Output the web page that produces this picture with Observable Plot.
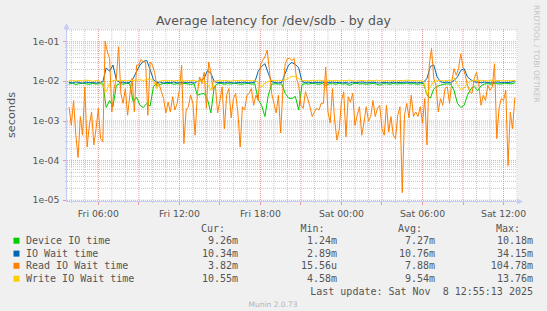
<!DOCTYPE html>
<html><head><meta charset="utf-8">
<script src="https://cdn.jsdelivr.net/npm/d3@7"></script>
<script src="https://cdn.jsdelivr.net/npm/@observablehq/plot@0.6"></script>
<style>
html,body{margin:0;padding:0;background:#f0f0f0;}
#chart{width:547px;height:311px;overflow:hidden;}
</style></head><body><div id="chart"></div>
<script>
// ---------- data ----------
const seriesNames = ["Device IO time", "IO Wait time", "Read IO Wait time", "Write IO Wait time"];
const seriesColors = ["#00CC00", "#0066B3", "#FF8000", "#FFCC00"];
const legendCur = ["9.26m", "10.34m", "3.82m", "10.55m"];
const legendMin = ["1.24m", "2.89m", "15.56u", "4.58m"];
const legendAvg = ["7.27m", "10.76m", "7.88m", "9.54m"];
const legendMax = ["10.18m", "34.15m", "104.78m", "13.76m"];
const lastUpdate = "Last update: Sat Nov  8 12:55:13 2025";
const titleText = "Average latency for /dev/sdb - by day";
const yLabel = "seconds";
const watermark = "RRDTOOL / TOBI OETIKER";
const versionText = "Munin 2.0.73";

const yTickValues = [1e-5, 1e-4, 1e-3, 1e-2, 1e-1];
const yTickLabels = ["1e-05", "1e-04", "1e-03", "1e-02", "1e-01"];
const xTickTimes = [
  Date.UTC(2025, 10, 7, 6), Date.UTC(2025, 10, 7, 12), Date.UTC(2025, 10, 7, 18),
  Date.UTC(2025, 10, 8, 0), Date.UTC(2025, 10, 8, 6), Date.UTC(2025, 10, 8, 12)
];
const xTickLabels = ["Fri 06:00", "Fri 12:00", "Fri 18:00", "Sat 00:00", "Sat 06:00", "Sat 12:00"];

// series start Fri 03:50 (UTC), read series every 10 min, the others every 15 min
const seriesStart = Date.UTC(2025, 10, 7, 3, 50);
const readStepMin = 10;
const otherStepMin = 15;

const readWait = [
  0.0022, 0.00078, 0.0033, 0.00044, 0.00012, 0.0013, 0.00044, 0.0073, 0.00022, 0.00078,
  0.0017, 0.00025, 0.00064, 0.0021, 0.00036, 0.0003, 0.105, 0.056, 0.038, 0.0017,
  0.0066, 0.012, 0.075, 0.005, 0.0028, 0.0066, 0.0014, 0.0045, 0.012, 0.0017,
  0.026, 0.026, 0.036, 0.031, 0.031, 0.0014, 0.031, 0.026, 0.017, 0.0073,
  0.0088, 0.0055, 0.0037, 0.0016, 0.003, 0.0017, 0.0041, 0.0019, 0.0028, 0.006,
  0.026, 0.00027, 0.0019, 0.0023, 0.0045, 0.0028, 0.00044, 0.005, 0.013, 0.0088,
  0.017, 0.0021, 0.031, 0.017, 0.006, 0.008, 0.0016, 0.0033, 0.0073, 0.00064,
  0.0045, 0.0066, 0.0012, 0.0037, 0.005, 0.0016, 0.00022, 0.0023, 0.0019, 0.0045,
  0.005, 0.0066, 0.0025, 0.0045, 0.0033, 0.026, 0.034, 0.042, 0.062, 0.019,
  0.005, 0.0028, 0.0016, 0.0045, 0.0005, 0.0066, 0.028, 0.038, 0.038, 0.034,
  0.038, 0.012, 0.008, 0.0025, 0.0021, 0.0055, 0.0037, 0.0023, 0.0013, 0.0017,
  0.0021, 0.0019, 0.0028, 0.0028, 0.023, 0.0017, 0.0009, 0.0066, 0.001, 0.00033,
  0.0006, 0.0033, 0.0055, 0.0004, 0.0041, 0.003, 0.005, 0.00078, 0.0014, 0.0023,
  0.00044, 0.0009, 0.0023, 0.001, 0.0013, 0.0033, 0.0013, 0.0021, 0.0025, 0.00064,
  0.00044, 0.0025, 0.00053, 0.0013, 0.00044, 0.00036, 0.0014, 0.0023, 0.0000156, 0.0014,
  0.0028, 0.0012, 0.0045, 0.0013, 0.0017, 0.0013, 0.0023, 0.0009, 0.0037, 0.00025,
  0.026, 0.068, 0.012, 0.008, 0.0017, 0.0037, 0.0025, 0.0066, 0.0073, 0.0028,
  0.0098, 0.021, 0.0144, 0.021, 0.05, 0.023, 0.0144, 0.008, 0.0055, 0.005,
  0.012, 0.017, 0.0088, 0.0025, 0.0045, 0.0033, 0.008, 0.006, 0.0073, 0.028,
  0.00036, 0.0021, 0.0037, 0.0033, 0.006, 0.000075, 0.0017, 0.00064, 0.0038
];

const deviceIO = [
  0.0086, 0.0090, 0.0084, 0.0088, 0.0091, 0.0087, 0.0085, 0.0089, 0.0086, 0.0088,
  0.0087, 0.0022, 0.0033, 0.0023, 0.0080, 0.0088, 0.0085, 0.0089, 0.0087, 0.0030,
  0.0040, 0.0025, 0.0022, 0.0028, 0.0024, 0.0075, 0.0088, 0.0084, 0.0089, 0.0087,
  0.0090, 0.0085, 0.0088, 0.0086, 0.0089, 0.0087, 0.0084, 0.0088, 0.0045, 0.0048,
  0.0050, 0.0035, 0.0016, 0.0075, 0.0087, 0.0089, 0.0085, 0.0088, 0.0086, 0.0090,
  0.0087, 0.0085, 0.0088, 0.0089, 0.0086, 0.0087, 0.0035, 0.0025, 0.0013, 0.0045,
  0.0085, 0.0088, 0.0086, 0.0087, 0.0050, 0.0038, 0.0037, 0.0042, 0.0019, 0.0084,
  0.0088, 0.0086, 0.0090, 0.0087, 0.0085, 0.0089, 0.0078, 0.0087, 0.0088, 0.0085,
  0.0089, 0.0086, 0.0088, 0.0079, 0.0087, 0.0090, 0.0086, 0.0088, 0.0085, 0.0087,
  0.0089, 0.0086, 0.0080, 0.0088, 0.0087, 0.0085, 0.0089, 0.0086, 0.0088, 0.0087,
  0.0090, 0.0086, 0.0088, 0.0085, 0.0087, 0.0089, 0.0045, 0.0038, 0.0065, 0.0075,
  0.0080, 0.0085, 0.0087, 0.0086, 0.0060, 0.0028, 0.0022, 0.0025, 0.0045, 0.0066,
  0.0075, 0.0058, 0.0078, 0.0086, 0.0088, 0.0085, 0.0089, 0.0087, 0.0086, 0.0090,
  0.0088, 0.0087, 0.00926
];

const ioWait = [
  0.0095, 0.0092, 0.0097, 0.0094, 0.0090, 0.0096, 0.0093, 0.0095, 0.0091, 0.0094,
  0.0098, 0.022, 0.018, 0.026, 0.011, 0.0094, 0.0096, 0.0092, 0.0095, 0.012,
  0.018, 0.026, 0.032, 0.034, 0.020, 0.011, 0.0094, 0.0096, 0.0091, 0.0095,
  0.0093, 0.0097, 0.0092, 0.0094, 0.0096, 0.0093, 0.0095, 0.0091, 0.010, 0.0105,
  0.012, 0.019, 0.016, 0.010, 0.0093, 0.0095, 0.0092, 0.0096, 0.0094, 0.0091,
  0.0095, 0.0093, 0.0096, 0.0092, 0.0094, 0.0095, 0.018, 0.024, 0.028, 0.016,
  0.0098, 0.0094, 0.0092, 0.0095, 0.016, 0.026, 0.030, 0.027, 0.022, 0.0098,
  0.0094, 0.0096, 0.0092, 0.0095, 0.0093, 0.0097, 0.0091, 0.0094, 0.0096, 0.0093,
  0.0095, 0.0092, 0.0094, 0.0090, 0.0096, 0.0093, 0.0095, 0.0097, 0.0092, 0.0094,
  0.0096, 0.0093, 0.0091, 0.0095, 0.0094, 0.0092, 0.0096, 0.0093, 0.0095, 0.0094,
  0.0097, 0.0093, 0.0095, 0.0092, 0.0094, 0.0096, 0.012, 0.024, 0.026, 0.013,
  0.0098, 0.0094, 0.0096, 0.0093, 0.0105, 0.013, 0.019, 0.021, 0.013, 0.011,
  0.0098, 0.0095, 0.0093, 0.0096, 0.0094, 0.0092, 0.0095, 0.0097, 0.0093, 0.0095,
  0.0094, 0.0096, 0.01034
];

const writeWait = [
  0.0104, 0.0107, 0.0102, 0.0106, 0.0103, 0.0108, 0.0105, 0.0101, 0.0106, 0.0104,
  0.0078, 0.0055, 0.0090, 0.0105, 0.0108, 0.0103, 0.0106, 0.0104, 0.0107, 0.0105,
  0.0108, 0.0110, 0.0106, 0.0112, 0.0115, 0.0104, 0.0065, 0.0102, 0.0106, 0.0104,
  0.0107, 0.0103, 0.0105, 0.0108, 0.0102, 0.0106, 0.0104, 0.0107, 0.0100, 0.0104,
  0.0098, 0.0085, 0.0060, 0.0100, 0.0106, 0.0103, 0.0107, 0.0104, 0.0102, 0.0106,
  0.0105, 0.0108, 0.0103, 0.0106, 0.0104, 0.0107, 0.0095, 0.0072, 0.0090, 0.0100,
  0.0106, 0.0104, 0.0107, 0.0105, 0.0110, 0.0120, 0.0135, 0.0130, 0.0118, 0.0105,
  0.0106, 0.0103, 0.0107, 0.0104, 0.0108, 0.0105, 0.0102, 0.0106, 0.0104, 0.0107,
  0.0103, 0.0106, 0.0105, 0.0108, 0.0104, 0.0102, 0.0107, 0.0105, 0.0103, 0.0106,
  0.0104, 0.0108, 0.0105, 0.0102, 0.0106, 0.0104, 0.0107, 0.0103, 0.0106, 0.0105,
  0.0108, 0.0104, 0.0106, 0.0103, 0.0105, 0.0100, 0.0046, 0.0075, 0.0098, 0.0104,
  0.0106, 0.0103, 0.0107, 0.0105, 0.0125, 0.0085, 0.0062, 0.0068, 0.0090, 0.0102,
  0.0106, 0.0104, 0.0107, 0.0105, 0.0103, 0.0108, 0.0104, 0.0106, 0.0105, 0.0103,
  0.0107, 0.0104, 0.01055
];

// ---------- build ----------
const toRows = (values, stepMin) =>
  values.map((v, i) => ({t: new Date(seriesStart + i * stepMin * 60000), v}));

const xDomain = [new Date(Date.UTC(2025, 10, 7, 3, 43)), new Date(Date.UTC(2025, 10, 8, 13, 2))];
const yDomain = [9.3e-6, 0.205];

// grid positions
const minorY = [];
for (let k = -6; k <= -1; k++) for (let m = 2; m <= 9; m++) {
  const v = m * Math.pow(10, k);
  if (v >= yDomain[0] && v <= yDomain[1]) minorY.push(v);
}
const hours = d3.utcHour.range(xDomain[0], xDomain[1]);
const majorX = hours.filter(d => d.getUTCHours() % 3 === 0);
const minorX = hours.filter(d => d.getUTCHours() % 3 !== 0);

const gridGray = "#c8c8c8";
const gridRed = "#e89a9a";
const textColor = "#555555";

const plot = Plot.plot({
  width: 547, height: 311,
  marginLeft: 67, marginRight: 30, marginTop: 29, marginBottom: 110,
  style: {background: "#f0f0f0", fontFamily: "'DejaVu Sans'", fontSize: "9.33px", color: textColor, overflow: "visible"},
  x: {type: "utc", domain: xDomain},
  y: {type: "log", domain: yDomain},
  marks: [
    Plot.frame({fill: "white", stroke: "none"}),
    Plot.ruleY(minorY, {stroke: gridGray, strokeDasharray: "1,1", strokeWidth: 1}),
    Plot.ruleX(minorX, {stroke: gridGray, strokeDasharray: "1,1", strokeWidth: 1}),
    Plot.ruleY(yTickValues, {stroke: gridRed, strokeDasharray: "1,1", strokeWidth: 1}),
    Plot.ruleX(majorX, {stroke: gridRed, strokeDasharray: "1,1", strokeWidth: 1}),
    Plot.line(toRows(deviceIO, otherStepMin), {x: "t", y: "v", stroke: seriesColors[0], strokeWidth: 1}),
    Plot.line(toRows(ioWait, otherStepMin), {x: "t", y: "v", stroke: seriesColors[1], strokeWidth: 1}),
    Plot.line(toRows(readWait, readStepMin), {x: "t", y: "v", stroke: seriesColors[2], strokeWidth: 1}),
    Plot.line(toRows(writeWait, otherStepMin), {x: "t", y: "v", stroke: seriesColors[3], strokeWidth: 1}),
    Plot.axisY({ticks: yTickValues, tickFormat: d => yTickLabels[yTickValues.indexOf(d)], tickSize: 0, tickPadding: 8, fill: textColor, label: null}),
    Plot.axisX({ticks: xTickTimes.map(t => new Date(t)), tickFormat: d => xTickLabels[xTickTimes.indexOf(+d)], tickSize: 0, tickPadding: 9, fill: textColor, label: null})
  ]
});

document.getElementById("chart").appendChild(plot);

// ---------- decorations (RRDtool style) ----------
const svg = d3.select(plot);
const xs = plot.scale("x"), ys = plot.scale("y");
const pLeft = 67, pRight = 517, pTop = 29, pBottom = 201;
const axisColor = "#c6cdf5";
const deco = svg.append("g").attr("text-anchor", "start");

// tick marks
hours.forEach(d => {
  const x = Math.round(xs.apply(d)) + 0.5;
  const major = d.getUTCHours() % 3 === 0;
  deco.append("line").attr("x1", x).attr("x2", x).attr("y1", pBottom).attr("y2", pBottom + (major ? 4 : 2))
    .attr("stroke", major ? gridRed : gridGray);
});
minorY.forEach(v => {
  const y = Math.round(ys.apply(v)) + 0.5;
  deco.append("line").attr("x1", pLeft - 2).attr("x2", pLeft).attr("y1", y).attr("y2", y).attr("stroke", gridGray);
});
yTickValues.forEach(v => {
  const y = Math.round(ys.apply(v)) + 0.5;
  deco.append("line").attr("x1", pLeft - 4).attr("x2", pLeft).attr("y1", y).attr("y2", y).attr("stroke", gridRed);
});

// axes with arrows
deco.append("line").attr("x1", pLeft - 0.5).attr("x2", pLeft - 0.5).attr("y1", pTop - 4).attr("y2", pBottom + 1).attr("stroke", axisColor);
deco.append("line").attr("x1", pLeft - 1).attr("x2", pRight + 2).attr("y1", pBottom + 0.5).attr("y2", pBottom + 0.5).attr("stroke", axisColor);
deco.append("path").attr("d", `M${pLeft - 3.5},${pTop} L${pLeft + 2.5},${pTop} L${pLeft - 0.5},${pTop - 6} Z`).attr("fill", axisColor);
deco.append("path").attr("d", `M${pRight},${pBottom - 2.5} L${pRight},${pBottom + 3.5} L${pRight + 6},${pBottom + 0.5} Z`).attr("fill", axisColor);

// title
deco.append("text").attr("x", 273.5).attr("y", 25).attr("text-anchor", "middle")
  .attr("font-family", "'DejaVu Sans'").attr("font-size", 12.5).attr("fill", textColor).text(titleText);
// y label
deco.append("text").attr("transform", "translate(15,115) rotate(-90)").attr("text-anchor", "middle")
  .attr("font-family", "'DejaVu Sans'").attr("font-size", 11.3).attr("fill", textColor).text(yLabel);
// watermark
deco.append("text").attr("transform", "translate(534,5) rotate(90)").attr("text-anchor", "start")
  .attr("font-family", "'DejaVu Sans'").attr("font-size", 7.6).attr("fill", "#c4c4c4").text(watermark);

// legend
const mono = "'DejaVu Sans Mono'";
const headerY = 231.6;
const rowY = [244.2, 257.1, 269.3, 282.2];
const colHeaders = ["Cur:", "Min:", "Avg:", "Max:"];
const headerRight = [225, 324.5, 422, 520];
const valueRight = [238, 337, 435, 533];
const cols = [legendCur, legendMin, legendAvg, legendMax];
colHeaders.forEach((h, c) => {
  deco.append("text").attr("x", headerRight[c]).attr("y", headerY).attr("text-anchor", "end")
    .attr("font-family", mono).attr("font-size", 10).attr("fill", textColor).text(h);
});
seriesNames.forEach((name, r) => {
  deco.append("rect").attr("x", 13.5).attr("y", rowY[r] - 6.5).attr("width", 6).attr("height", 6).attr("fill", seriesColors[r]);
  deco.append("text").attr("x", 26).attr("y", rowY[r]).attr("text-anchor", "start")
    .attr("font-family", mono).attr("font-size", 10).attr("fill", textColor).text(name);
  cols.forEach((col, c) => {
    deco.append("text").attr("x", valueRight[c]).attr("y", rowY[r]).attr("text-anchor", "end")
      .attr("font-family", mono).attr("font-size", 10).attr("fill", textColor).text(col[r]);
  });
});
deco.append("text").attr("x", 533).attr("y", 294.8).attr("text-anchor", "end")
  .style("white-space", "pre")
  .attr("font-family", mono).attr("font-size", 10).attr("fill", textColor).text(lastUpdate);
deco.append("text").attr("x", 273).attr("y", 307).attr("text-anchor", "middle")
  .attr("font-family", "'DejaVu Sans'").attr("font-size", 7.5).attr("fill", "#b4b4b4").text(versionText);
</script>
</body></html>
